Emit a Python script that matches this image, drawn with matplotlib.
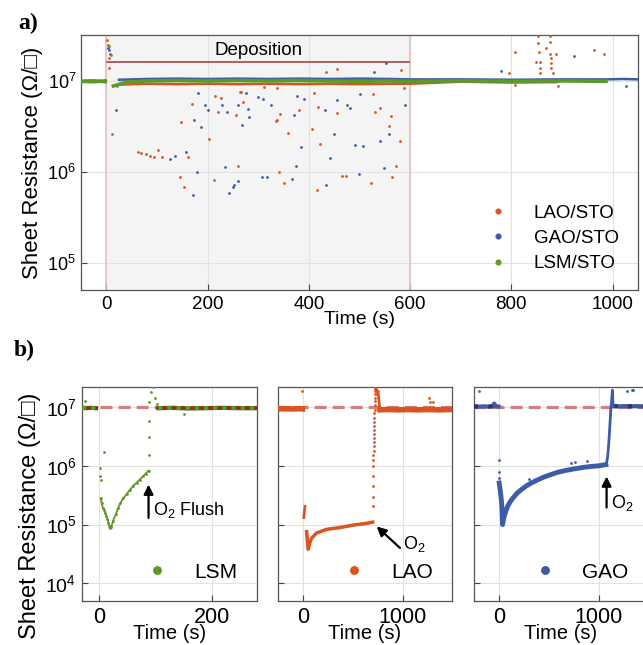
import numpy as np
import matplotlib
matplotlib.use("Agg")
import matplotlib.pyplot as plt
from matplotlib.ticker import FixedLocator, NullLocator, LogLocator

plt.rcParams['font.family'] = ['Liberation Sans', 'DejaVu Sans']
plt.rcParams['mathtext.fontset'] = 'custom'
plt.rcParams['mathtext.rm'] = 'Liberation Sans'
plt.rcParams['mathtext.it'] = 'Liberation Sans:italic'
plt.rcParams['mathtext.bf'] = 'Liberation Sans:bold'

nan = np.nan

cLAO = "#d9541e"
cGAO = "#3d5ca8"
cLSM = "#5c9a28"
cDash = "#d08080"
cDep = "#b05f5f"

# ---------------- a) all three films during deposition ----------------
dep_start, dep_end, dep_level = 0, 600, 1.6e7

# baseline bands (time s, sheet resistance ohm/sq)
lao_band_t = [-50, -30, -10, -2, nan, 28, 80, 140, 200, 260, 320, 380, 440, 500, 560, 600, 700, 800, 890]
lao_band_r = [0.99e7, 1.0e7, 0.99e7, 1.0e7, nan, 0.91e7, 0.93e7, 0.92e7, 0.93e7, 0.92e7, 0.93e7, 0.92e7,
              0.93e7, 0.92e7, 0.93e7, 0.93e7, 0.98e7, 0.96e7, 0.97e7]
gao_band_t = [-50, -30, -10, -2, nan, 25, 80, 140, 200, 260, 320, 380, 440, 500, 560, 600, 700, 800, 900, 990, 1020, 1050]
gao_band_r = [1.0e7, 1.01e7, 1.0e7, 1.01e7, nan, 1.03e7, 1.05e7, 1.06e7, 1.05e7, 1.06e7, 1.05e7, 1.06e7,
              1.05e7, 1.06e7, 1.05e7, 1.04e7, 1.04e7, 1.03e7, 1.04e7, 1.04e7, 1.05e7, 1.04e7]
lsm_band_t = [-50, -30, -10, -2, nan, 14, 40, 80, 140, 200, 260, 320, 380, 440, 500, 560, 600, 700, 800, 900, 987]
lsm_band_r = [0.99e7, 0.98e7, 0.99e7, 0.98e7, nan, 0.88e7, 0.97e7, 1.0e7, 1.01e7, 1.0e7, 1.01e7, 1.0e7,
              1.01e7, 1.0e7, 0.99e7, 1.0e7, 0.99e7, 1.0e7, 0.99e7, 1.0e7, 0.99e7]

# scattered points away from the baseline
lao_t = [1, 3, 5, 6, 62, 69, 78, 86, 95, 103, 109, 146, 147, 154, 162, 169, 203, 212, 214, 220, 227, 256,
         261, 264, 267, 269, 312, 335, 337, 338, 342, 343, 350, 358, 380, 407, 410, 416, 419, 423, 434, 455,
         455, 465, 473, 523, 526, 531, 540, 559, 563, 565, 573, 581, 583, 588, 795, 807, 807, 849, 853, 853,
         854, 856, 856, 857, 869, 876, 876, 877, 878, 879, 879, 882, 889, 893, 964, 984]
lao_r = [2.8e7, 2.5e7, 1.8e7, 1.4e7, 1.66e6, 1.62e6, 1.55e6, 1.48e6, 1.45e6, 1.74e6, 1.45e6, 8.7e5, 3.5e6,
         6.8e5, 1.45e6, 5.6e6, 2.3e6, 8.1e5, 6.9e6, 4.6e6, 6.5e6, 4.2e6, 1.15e6, 7.6e6, 7.6e6, 5.9e6, 8.5e6,
         3.6e6, 8.3e6, 3.7e6, 1.0e6, 4.3e6, 7.6e5, 2.7e6, 4.8e6, 2.95e6, 7.4e6, 6.3e5, 5.2e6, 2.0e6, 1.26e7,
         1.35e7, 4.4e6, 9.1e5, 9.1e5, 7.6e5, 7.2e6, 4.6e6, 5.0e6, 3.2e6, 4.1e6, 8.7e5, 1.17e6, 2.2e6, 1.32e7,
         8.3e6, 1.23e7, 2.1e7, 9.1e6, 1.62e7, 3.1e7, 2.6e7, 2.1e7, 1.62e7, 1.38e7, 1.23e7, 2.3e7, 3.1e7,
         2.7e7, 2.0e7, 1.78e7, 1.58e7, 1.38e7, 1.23e7, 2.0e7, 8.9e6, 2.2e7, 2.0e7]
gao_t = [3, 6, 8, 20, 126, 135, 157, 172, 174, 180, 182, 187, 195, 200, 229, 235, 239, 243, 251, 252, 260,
         261, 268, 276, 279, 281, 300, 308, 309, 317, 325, 366, 371, 375, 377, 384, 391, 432, 434, 442, 450,
         456, 476, 481, 491, 500, 501, 507, 528, 540, 548, 552, 558, 590, 779, 924, 1026]
gao_r = [2.3e7, 2.2e7, 2.0e7, 4.8e6, 1.38e6, 1.48e6, 1.66e6, 5.6e5, 3.7e6, 1.0e6, 7.4e6, 3.1e6, 5.4e6,
         4.8e6, 5.4e6, 1.12e6, 4.6e6, 5.8e5, 6.8e5, 7.2e5, 7.9e5, 5.4e6, 3.3e6, 7.4e6, 4.9e6, 4.0e6, 6.6e6,
         8.7e5, 6.3e6, 8.7e5, 5.5e6, 8.3e5, 4.2e6, 1.17e6, 6.8e6, 1.86e6, 6.3e6, 4.8e6, 7.2e5, 1.41e6, 2.6e6,
         6.2e6, 5.5e6, 5.0e6, 1.95e6, 9.5e5, 7.2e6, 1.9e6, 1.26e7, 2.2e6, 1.1e6, 1.58e7, 2.6e6, 5.4e6,
         1.29e7, 1.86e7, 8.7e6]
lsm_t = [5, 10, 11, 21, 34]
lsm_r = [2.4e7, 1.95e7, 2.6e6, 8.7e6, 9.5e6]

# ---------------- b) recovery after O2 flush ----------------
lsm_base_t = [-30, -22, -14, -5, nan, 105, 130, 160, 190, 220, 250, 280]
lsm_base_r = [0.97e7, 0.96e7, 0.97e7, 0.96e7, nan, 0.96e7, 0.97e7, 0.95e7, 0.96e7, 0.97e7, 0.96e7, 0.96e7]
lsm_drop_t = [2, 2, 3]
lsm_drop_r = [9.1e5, 6.6e5, 5.8e5]
lsm_curve_t = [3, 5, 7, 9, 11, 13, 15, 17, 19, 20, 22, 25, 30, 34, 38, 43, 49, 55, 61, 67, 72, 78, 83, 88]
lsm_curve_r = [2.8e5, 2.3e5, 1.9e5, 1.8e5, 1.6e5, 1.4e5, 1.26e5, 1.07e5, 8.7e4, 9.5e4, 9.1e4, 1.15e5, 1.5e5,
               1.9e5, 2.3e5, 2.8e5, 3.3e5, 3.9e5, 4.6e5, 5.2e5, 5.8e5, 6.6e5, 7.4e5, 8.3e5]
lsm_rise_t = [88, 88, 88, 88, 93, 95, 99, 103]
lsm_rise_r = [1.55e6, 3.1e6, 5.9e6, 1.23e7, 1.82e7, 2.2e7, 1.41e7, 1.15e7]
lsm_odd_t = [-25, 9, 150]
lsm_odd_r = [1.26e7, 1.74e6, 7.6e6]

lao_base_t = [-250, -180, -110, -40, -5, nan, 770, 850, 950, 1050, 1150, 1250, 1350, 1490]
lao_base_r = [0.93e7, 0.94e7, 0.93e7, 0.94e7, 0.93e7, nan, 0.90e7, 0.91e7, 0.90e7, 0.91e7, 0.90e7, 0.91e7,
              0.90e7, 0.91e7]
lao_seg_t = [8, 12, 16, 20]
lao_seg_r = [1.32e5, 1.51e5, 1.78e5, 2.04e5]
lao_curve_t = [37, 43, 48, 53, 70, 87, 137, 237, 370, 503, 637, 697]
lao_curve_r = [7.6e4, 5.6e4, 4.6e4, 3.8e4, 5.0e4, 5.9e4, 7.2e4, 8.3e4, 8.9e4, 9.8e4, 1.05e5, 1.10e5]
lao_rise_t = [697, 698, 699, 700, 702, 704, 705, 706, 707, 708, 709, 710, 711, 712, 713, 714, 715, 716, 717,
              718, 719, 720, 721, 722, 723]
lao_rise_r = [2.04e5, 2.95e5, 4.5e5, 6.6e5, 9.8e5, 1.26e6, 1.51e6, 1.82e6, 2.14e6, 2.5e6, 2.95e6, 3.5e6,
              4.1e6, 4.8e6, 5.6e6, 6.6e6, 7.8e6, 9.1e6, 1.07e7, 1.26e7, 1.45e7, 1.66e7, 1.86e7, 2.04e7, 2.19e7]
lao_back_t = [725, 735, 745, 752, 756, 760, 765, 770]
lao_back_r = [2.2e7, 2.0e7, 1.82e7, 1.7e7, 1.5e7, 1.26e7, 1.05e7, 9.0e6]
lao_odd_t = [-13, 743, 753, 1260, 1270, 1303]
lao_odd_r = [1.86e7, 1.66e7, 1.86e7, 1.45e7, 1.2e7, 1.2e7]

gao_base_t = [-250, -200, -150, -100, -60, -47, -35, -15, -3, nan, 1145, 1200, 1260, 1320, 1380, 1440, 1500]
gao_base_r = [1.03e7, 1.02e7, 1.03e7, 1.02e7, 1.03e7, 1.15e7, 1.05e7, 1.03e7, 1.02e7, nan, 1.04e7, 1.03e7,
              1.04e7, 1.03e7, 1.04e7, 1.03e7, 1.04e7]
gao_drop_t = [3, 3, 3]
gao_drop_r = [1.26e6, 7.9e5, 6.2e5]
gao_curve_t = [3, 10, 18, 25, 30, 35, 37, 45, 53, 70, 87, 110, 138, 180, 221, 270, 322, 390, 456, 520, 591,
               660, 725, 790, 859, 930, 994, 1070]
gao_curve_r = [5.1e5, 4.2e5, 3.3e5, 2.6e5, 2.0e5, 1.26e5, 1.0e5, 1.2e5, 1.38e5, 1.7e5, 2.04e5, 2.4e5, 2.8e5,
               3.4e5, 3.9e5, 4.5e5, 5.1e5, 5.8e5, 6.5e5, 7.1e5, 7.8e5, 8.3e5, 8.7e5, 9.1e5, 9.5e5, 9.8e5,
               1.0e6, 1.05e6]
gao_rise_t = [1070, 1080, 1088, 1095, 1101, 1106, 1111, 1115, 1118, 1123, 1128, 1135, 1140, 1145]
gao_rise_r = [1.05e6, 1.2e6, 1.45e6, 2.0e6, 2.75e6, 3.8e6, 5.2e6, 6.9e6, 8.9e6, 1.1e7, 1.32e7, 1.95e7,
              1.2e7, 1.04e7]
gao_odd_t = [-200, 305, 718, 758, 886, 1279, 1329, 1346]
gao_odd_r = [1.86e7, 5.9e5, 1.12e6, 1.15e6, 1.23e6, 1.86e7, 1.95e7, 1.95e7]

target_r = 1e7


def style(ax, labelsize):
    ax.set_yscale('log')
    ax.grid(True, color='#e2e2e2', lw=0.8)
    ax.set_axisbelow(True)
    ax.yaxis.set_minor_locator(NullLocator())
    ax.tick_params(direction='in', length=4, width=0.8, color='#444444', labelsize=labelsize, pad=4)
    for s in ax.spines.values():
        s.set_color('#555555')
        s.set_linewidth(0.9)


fig = plt.figure(figsize=(6.43, 6.45), dpi=100)

# ---- top panel ----
axA = fig.add_axes([0.126, 0.5504, 0.866, 0.3953])
style(axA, 13.5)
axA.tick_params(axis='y', labelsize=13, pad=3.5)
axA.axvspan(dep_start, dep_end, color='#f4f4f4', zorder=0)
axA.axvline(dep_start, color='#e2c2c2', lw=1.2, zorder=1)
axA.axvline(dep_end, color='#e2c2c2', lw=1.2, zorder=1)
axA.hlines(dep_level, dep_start, dep_end, color=cDep, lw=1.4, zorder=2)
axA.text((dep_start + dep_end) / 2, 2.15e7, 'Deposition', ha='center', va='center', fontsize=13.5)

axA.plot(lao_band_t, lao_band_r, color=cLAO, lw=1.8, zorder=3)
axA.plot(gao_band_t, gao_band_r, color=cGAO, lw=1.8, zorder=3)
axA.plot(lsm_band_t, lsm_band_r, color=cLSM, lw=2.6, zorder=3)
axA.plot(lao_t, lao_r, 'o', color=cLAO, ms=2.0, mew=0, label='LAO/STO', zorder=4)
axA.plot(gao_t, gao_r, 'o', color=cGAO, ms=2.0, mew=0, label='GAO/STO', zorder=4)
axA.plot(lsm_t, lsm_r, 'o', color=cLSM, ms=2.0, mew=0, label='LSM/STO', zorder=4)

axA.set_xlim(-50, 1050)
axA.xaxis.set_major_locator(FixedLocator([0, 200, 400, 600, 800, 1000]))
axA.yaxis.set_major_locator(LogLocator(base=10, numticks=10))
axA.set_ylim(5e4, 3.2e7)
axA.set_xlabel('Time (s)', fontsize=14)
axA.xaxis.set_label_coords(0.5, -0.082)
axA.set_ylabel('Sheet Resistance (Ω/□)', fontsize=16)
axA.yaxis.set_label_coords(-0.068, 0.5)
axA.legend(loc='lower left', bbox_to_anchor=(0.732, 0.07), frameon=False, fontsize=13.5,
           handlelength=1, handletextpad=1.4, labelspacing=0.43, markerscale=2.2,
           borderpad=0, borderaxespad=0)

fig.text(0.028, 0.963, 'a)', fontsize=17, fontweight='bold', family='Liberation Serif', va='center')
fig.text(0.022, 0.456, 'b)', fontsize=17, fontweight='bold', family='Liberation Serif', va='center')

# ---- bottom panels ----
bw = 0.2706
bb = 0.0682
bh = 0.3318
axL = fig.add_axes([0.1275, bb, 0.272, bh])
axO = fig.add_axes([0.4323, bb, bw, bh])
axG = fig.add_axes([0.737, bb, bw, bh])

for ax in (axL, axO, axG):
    style(ax, 15.5)
    ax.axhline(target_r, color=cDash, lw=2.3, dashes=(3.75, 1.9), zorder=2)
    ax.set_ylim(5e3, 2.2e7)
    ax.yaxis.set_major_locator(FixedLocator([1e4, 1e5, 1e6, 1e7]))
    ax.set_xlabel('Time (s)', fontsize=14.5)
    ax.xaxis.set_label_coords(0.5, -0.107)

# LSM
axL.plot(lsm_base_t, lsm_base_r, color='#7d3c18', lw=3, zorder=3)
axL.plot(lsm_base_t, lsm_base_r, color=cLSM, lw=3, ls=(0, (1, 1.2)), zorder=3)
axL.plot(lsm_curve_t, lsm_curve_r, '-o', color=cLSM, lw=1.3, ms=2, mew=0, zorder=4)
axL.plot(lsm_drop_t, lsm_drop_r, 'o', color=cLSM, ms=2, mew=0, zorder=4)
axL.plot(lsm_rise_t, lsm_rise_r, 'o', color=cLSM, ms=2, mew=0, zorder=4)
axL.plot(lsm_odd_t, lsm_odd_r, 'o', color=cLSM, ms=2, mew=0, zorder=4, label='LSM')
axL.set_xlim(-30, 280)
axL.xaxis.set_major_locator(FixedLocator([0, 200]))
axL.set_ylabel('Sheet Resistance (Ω/□)', fontsize=17)
axL.yaxis.set_label_coords(-0.235, 0.40)
axL.tick_params(axis='y', labelsize=14)
axL.annotate('', xy=(88, 4.8e5), xytext=(88, 1.3e5),
             arrowprops=dict(arrowstyle='-|>', color='k', lw=1.6, mutation_scale=14, shrinkA=0, shrinkB=0))
axL.text(95, 1.8e5, 'O$_2$ Flush', fontsize=13, va='center', ha='left')

# LAO
axO.plot(lao_base_t, lao_base_r, color=cLAO, lw=4, zorder=3)
axO.plot(lao_seg_t, lao_seg_r, '-', color=cLAO, lw=2, zorder=4)
axO.plot(lao_curve_t, lao_curve_r, '-', color=cLAO, lw=2.5, zorder=4)
axO.plot(lao_rise_t, lao_rise_r, 'o', color=cLAO, ms=2, mew=0, zorder=4)
axO.plot(lao_back_t, lao_back_r, '-', color=cLAO, lw=2, zorder=4)
axO.plot(lao_odd_t, lao_odd_r, 'o', color=cLAO, ms=2, mew=0, zorder=4, label='LAO')
axO.set_xlim(-250, 1490)
axO.xaxis.set_major_locator(FixedLocator([0, 1000]))
axO.set_yticklabels([])
axO.annotate('', xy=(737, 9.3e4), xytext=(970, 4.0e4),
             arrowprops=dict(arrowstyle='-|>', color='k', lw=1.6, mutation_scale=14, shrinkA=0, shrinkB=0))
axO.text(1000, 4.6e4, 'O$_2$', fontsize=13, va='center', ha='left')

# GAO
axG.plot(gao_base_t, gao_base_r, color=cGAO, lw=3, zorder=3)
axG.plot(gao_base_t, gao_base_r, color='#3b2d63', lw=3, ls=(0, (1, 2.5)), zorder=3)
axG.plot(gao_drop_t, gao_drop_r, 'o', color=cGAO, ms=2, mew=0, zorder=4)
axG.plot(gao_curve_t, gao_curve_r, '-', color=cGAO, lw=3.5, zorder=4)
axG.plot(gao_rise_t, gao_rise_r, '-', color=cGAO, lw=2, zorder=4)
axG.plot(gao_odd_t, gao_odd_r, 'o', color=cGAO, ms=2, mew=0, zorder=4, label='GAO')
axG.set_xlim(-250, 1490)
axG.xaxis.set_major_locator(FixedLocator([0, 1000]))
axG.set_yticklabels([])
axG.annotate('', xy=(1077, 6.6e5), xytext=(1077, 1.95e5),
             arrowprops=dict(arrowstyle='-|>', color='k', lw=1.6, mutation_scale=14, shrinkA=0, shrinkB=0))
axG.text(1125, 2.3e5, 'O$_2$', fontsize=13, va='center', ha='left')

for ax, x0 in ((axL, 0.369), (axO, 0.377), (axG, 0.348)):
    ax.legend(loc='lower left', bbox_to_anchor=(x0, 0.09), frameon=False, fontsize=15,
              handlelength=1, handletextpad=1.3, markerscale=3.2, borderpad=0, borderaxespad=0)

fig.savefig('out.png', dpi=100)
